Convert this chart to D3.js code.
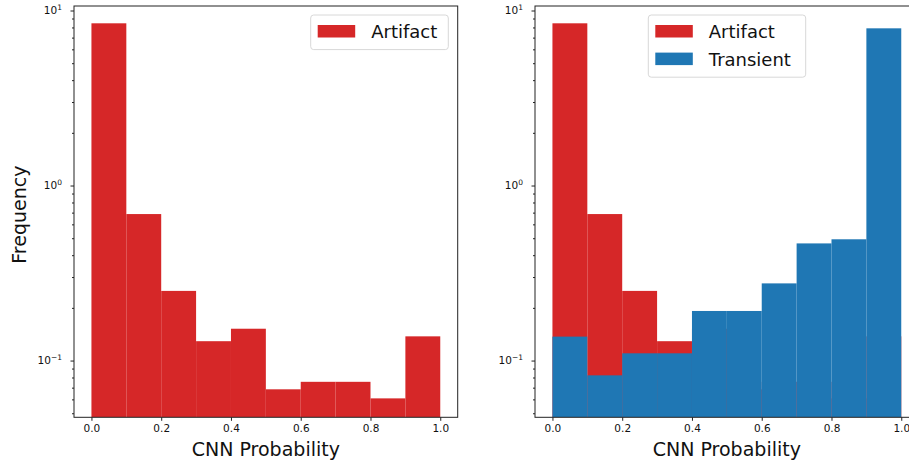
<!DOCTYPE html>
<html>
<head>
<meta charset="utf-8">
<script src="https://cdn.jsdelivr.net/npm/d3@7"></script>
<style>
  body { margin: 0; background: #fff; }
  svg { font-family: "DejaVu Sans", sans-serif; display: block; }
</style>
</head>
<body>
<svg id="chart" width="909" height="465"></svg>
<script>
// histogram bins (left edges), width 0.1
var binStarts = [0.0, 0.1, 0.2, 0.3, 0.4, 0.5, 0.6, 0.7, 0.8, 0.9];
var binWidth = 0.1;

// density values
var artifact = [8.45, 0.687, 0.250, 0.129, 0.152, 0.0685, 0.0756, 0.0756, 0.0608, 0.1375];
var transient = [0.137, 0.0823, 0.110, 0.110, 0.192, 0.192, 0.276, 0.467, 0.493, 7.91];

var xTicks = [0.0, 0.2, 0.4, 0.6, 0.8, 1.0];
var yMajor = [0.1, 1, 10];
var yExponents = ["\u22121", "0", "1"];

var red = "#d62728", blue = "#1f77b4";

var svg = d3.select("#chart");

var plotTop = 6, plotBottom = 417.3, panelWidth = 383.7;

var y = d3.scaleLog()
        .domain([0.0474, 10.61])
        .range([plotBottom - plotTop, 0]);

var yMinor = [];
[0.01, 0.1, 1].forEach(function (d) {
    for (var k = 2; k <= 9; k++) {
        var v = d * k;
        if (v >= y.domain()[0] && v <= y.domain()[1]) yMinor.push(v);
    }
});

function drawPanel(left, series, showYLabel, legendX, id) {
    var h = plotBottom - plotTop;
    var x = d3.scaleLinear()
            .domain([-0.05, 1.05])
            .range([0, panelWidth]);

    var g = svg.append("g")
            .attr("transform", "translate(" + left + "," + plotTop + ")");

    g.append("clipPath").attr("id", "clip" + id)
            .append("rect").attr("width", panelWidth).attr("height", h);

    var bars = g.append("g").attr("clip-path", "url(#clip" + id + ")");

    series.forEach(function (s) {
        bars.selectAll(null)
                .data(s.values)
                .enter().append("rect")
                .attr("x", function (d, i) { return x(binStarts[i]); })
                .attr("width", function (d, i) { return x(binStarts[i] + binWidth) - x(binStarts[i]); })
                .attr("y", function (d) { return y(d); })
                .attr("height", function (d) { return h - y(d); })
                .attr("fill", s.color);
    });

    // spines
    g.append("rect")
            .attr("width", panelWidth)
            .attr("height", h)
            .attr("fill", "none")
            .attr("stroke", "#222")
            .attr("stroke-width", 1);

    // x axis
    var xa = g.append("g")
            .attr("transform", "translate(0," + h + ")")
            .call(d3.axisBottom(x).tickValues(xTicks).tickFormat(d3.format(".1f"))
                    .tickSize(3.5).tickPadding(3.5).tickSizeOuter(0));
    xa.select(".domain").remove();
    xa.selectAll("text").attr("font-size", 10.5).attr("fill", "#111")
            .attr("font-family", "DejaVu Sans, sans-serif");
    xa.selectAll("line").attr("stroke", "#222");

    // y minor ticks
    var ym = g.append("g")
            .call(d3.axisLeft(y).tickValues(yMinor).tickFormat("").tickSize(2).tickSizeOuter(0));
    ym.select(".domain").remove();
    ym.selectAll("line").attr("stroke", "#222");

    // y major ticks
    var ya = g.append("g")
            .call(d3.axisLeft(y).tickValues(yMajor).tickFormat("").tickSize(3.5).tickSizeOuter(0));
    ya.select(".domain").remove();
    ya.selectAll("line").attr("stroke", "#222");
    ya.selectAll(".tick").each(function (d, i) {
        var t = d3.select(this).append("text")
                .attr("x", -12)
                .attr("dy", "0.32em")
                .attr("text-anchor", "end")
                .attr("fill", "#111")
                .attr("font-size", 10.5)
                .attr("font-family", "DejaVu Sans, sans-serif");
        t.append("tspan").text("10");
        t.append("tspan").attr("font-size", 7.5).attr("dy", "-0.55em").text(yExponents[i]);
    });

    // axis labels
    g.append("text")
            .attr("x", panelWidth / 2)
            .attr("y", h + 38.5)
            .attr("text-anchor", "middle")
            .attr("font-size", 19)
            .attr("fill", "#111")
            .text("CNN Probability");

    if (showYLabel) {
        g.append("text")
                .attr("transform", "translate(" + (-left + 25.5) + "," + (h / 2 + 3) + ") rotate(-90)")
                .attr("text-anchor", "middle")
                .attr("font-size", 19)
                .attr("fill", "#111")
                .text("Frequency");
    }

    // legend
    var lg = g.append("g").attr("transform", "translate(" + (legendX - left) + "," + (15 - plotTop) + ")");
    var boxW = series.length > 1 ? 157.4 : 137.6;
    lg.append("rect")
            .attr("width", boxW)
            .attr("height", 6 + series.length * 27.6 + 1)
            .attr("rx", 3)
            .attr("fill", "#fff")
            .attr("fill-opacity", 0.8)
            .attr("stroke", "#d8d8d8");
    series.forEach(function (s, i) {
        lg.append("rect")
                .attr("x", 7)
                .attr("y", 10 + i * 27.6)
                .attr("width", 37.5)
                .attr("height", 12.5)
                .attr("fill", s.color);
        lg.append("text")
                .attr("x", 60.5)
                .attr("y", 23.3 + i * 27.6)
                .attr("font-size", 18)
                .attr("fill", "#111")
                .text(s.name);
    });
}

drawPanel(74, [{name: "Artifact", values: artifact, color: red}], true, 310.7, "a");
drawPanel(535, [{name: "Artifact", values: artifact, color: red},
                {name: "Transient", values: transient, color: blue}], false, 648.3, "b");
</script>
</body>
</html>
